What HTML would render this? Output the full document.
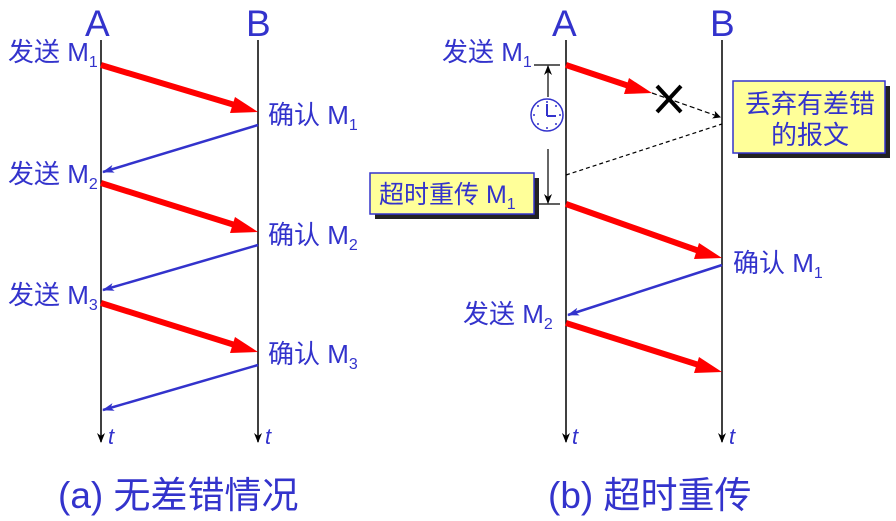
<!DOCTYPE html>
<html><head><meta charset="utf-8"><style>
body{margin:0;background:#fff;}
svg text{font-family:"Liberation Sans","Noto Sans CJK SC",sans-serif;fill:#3333cc;}
</style></head><body>
<svg width="896" height="516" viewBox="0 0 896 516" xmlns="http://www.w3.org/2000/svg">
<defs>
<marker id="bh" markerWidth="12" markerHeight="8" refX="11" refY="4" orient="auto" markerUnits="userSpaceOnUse"><path d="M0,0 L12,4 L0,8 L3,4 z" fill="#3333cc"/></marker>
<marker id="kh" markerWidth="10" markerHeight="8" refX="9" refY="4" orient="auto" markerUnits="userSpaceOnUse"><path d="M0,0 L10,4 L0,8 L3,4 z" fill="#000"/></marker>
<marker id="ks" markerWidth="8" markerHeight="8" refX="7" refY="4" orient="auto" markerUnits="userSpaceOnUse"><path d="M0,0 L8,4 L0,8 L2,4 z" fill="#000"/></marker>
</defs>
<g font-size="37">
<text x="85" y="36">A</text><text x="246" y="36">B</text>
<text x="552" y="36">A</text><text x="710" y="36">B</text>
</g>
<g stroke="#000" stroke-width="1.5">
<line x1="101" y1="40" x2="101" y2="442" marker-end="url(#kh)"/>
<line x1="258" y1="40" x2="258" y2="442" marker-end="url(#kh)"/>
<line x1="566" y1="40" x2="566" y2="442" marker-end="url(#kh)"/>
<line x1="722" y1="40" x2="722" y2="442" marker-end="url(#kh)"/>
</g>
<g font-size="22" font-style="italic">
<text x="108" y="444">t</text><text x="265" y="444">t</text><text x="572" y="444">t</text><text x="729" y="444">t</text>
</g>
<g stroke-width="6" stroke="#f00" fill="none">
<line x1="101" y1="65" x2="238" y2="106"/>
<line x1="101" y1="183" x2="238" y2="226"/>
<line x1="101" y1="303" x2="238" y2="346"/>
<line x1="566" y1="65" x2="635" y2="88"/>
<line x1="566" y1="204" x2="702" y2="252"/>
<line x1="566" y1="323" x2="702" y2="366"/>
</g>
<g fill="#f00">
<polygon points="258,112 230,113 235,97"/>
<polygon points="258,232 230,233 235,217"/>
<polygon points="258,352 230,353 235,337"/>
<polygon points="652,93 624,94 629,78"/>
<polygon points="722,258 694,259 699,243"/>
<polygon points="722,372 694,373 699,357"/>
</g>
<g stroke="#3333cc" stroke-width="2.5">
<line x1="258" y1="125" x2="103" y2="172" marker-end="url(#bh)"/>
<line x1="258" y1="245" x2="103" y2="290" marker-end="url(#bh)"/>
<line x1="258" y1="365" x2="103" y2="410" marker-end="url(#bh)"/>
<line x1="722" y1="265" x2="568" y2="315" marker-end="url(#bh)"/>
</g>
<g font-size="26">
<text x="8" y="61">发送 M<tspan font-size="16" dy="6">1</tspan></text>
<text x="8" y="183">发送 M<tspan font-size="16" dy="6">2</tspan></text>
<text x="8" y="304">发送 M<tspan font-size="16" dy="6">3</tspan></text>
<text x="268" y="124">确认 M<tspan font-size="16" dy="6">1</tspan></text>
<text x="268" y="244">确认 M<tspan font-size="16" dy="6">2</tspan></text>
<text x="268" y="363">确认 M<tspan font-size="16" dy="6">3</tspan></text>
<text x="442" y="61">发送 M<tspan font-size="16" dy="6">1</tspan></text>
<text x="733" y="272">确认 M<tspan font-size="16" dy="6">1</tspan></text>
<text x="463" y="323">发送 M<tspan font-size="16" dy="6">2</tspan></text>
</g>
<g stroke="#000" stroke-width="4"><line x1="657" y1="86" x2="681" y2="112"/><line x1="681" y1="86" x2="657" y2="112"/></g>
<line x1="652" y1="93" x2="720" y2="117" stroke="#000" stroke-width="1.2" stroke-dasharray="5,3" marker-end="url(#ks)"/>
<line x1="566" y1="175" x2="722" y2="124" stroke="#000" stroke-width="1.2" stroke-dasharray="4,3"/>
<g stroke="#000" stroke-width="1.2">
<line x1="534" y1="65" x2="560" y2="65"/>
<line x1="534" y1="204" x2="560" y2="204"/>
<line x1="548" y1="97" x2="548" y2="66" marker-end="url(#kh)"/>
<line x1="548" y1="149" x2="548" y2="203" marker-end="url(#kh)"/>
</g>
<circle cx="547" cy="115" r="16" fill="#fff" stroke="#3333cc" stroke-width="1.5"/>
<g fill="#3333cc"><circle cx="547" cy="102" r="1"/><circle cx="547" cy="128" r="1"/><circle cx="534" cy="115" r="1"/><circle cx="560" cy="115" r="1"/><circle cx="538" cy="106" r="1"/><circle cx="556" cy="106" r="1"/><circle cx="538" cy="124" r="1"/><circle cx="556" cy="124" r="1"/></g>
<g stroke="#3333cc" stroke-width="2"><line x1="547" y1="104" x2="547" y2="116"/><line x1="547" y1="116" x2="556" y2="116"/></g>
<rect x="738" y="86" width="152" height="72" fill="#222"/>
<rect x="733" y="81" width="152" height="72" fill="#ffff99" stroke="#3333cc" stroke-width="1.5"/>
<text x="745" y="113" font-size="26">丢弃有差错</text>
<text x="771" y="144" font-size="26">的报文</text>
<rect x="375" y="178" width="164" height="41" fill="#222"/>
<rect x="370" y="173" width="164" height="41" fill="#ffff99" stroke="#3333cc" stroke-width="1.5"/>
<text x="379" y="203" font-size="25">超时重传 M<tspan font-size="16" dy="6">1</tspan></text>
<g font-size="37">
<text x="58" y="508">(a) 无差错情况</text>
<text x="548" y="508">(b) 超时重传</text>
</g>
</svg>
</body></html>
